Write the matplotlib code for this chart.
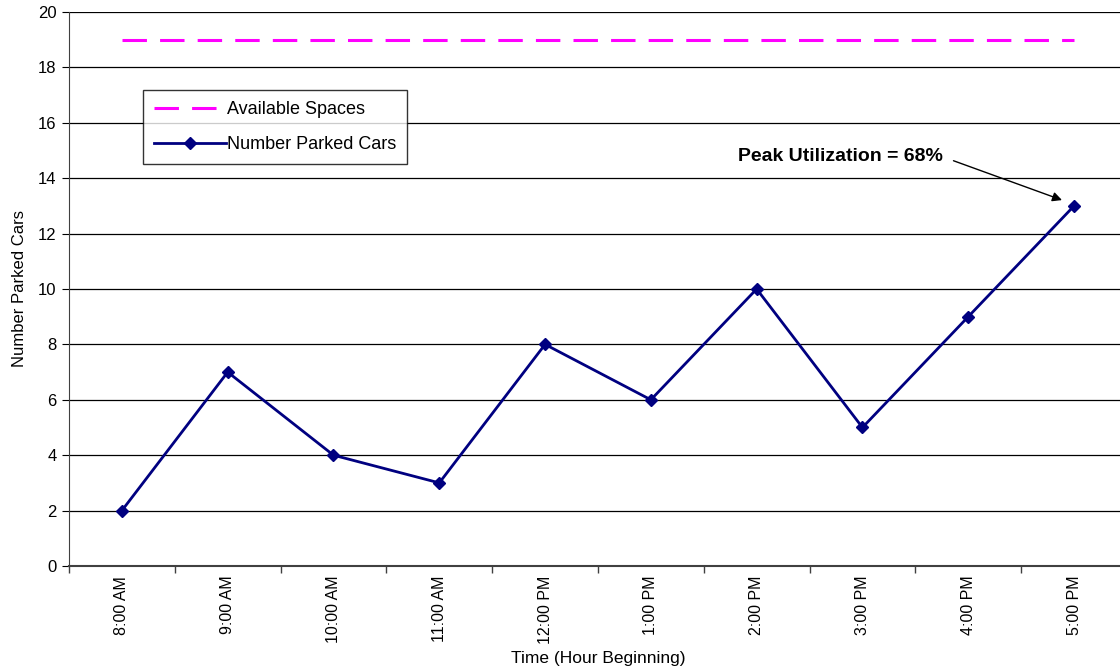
import numpy as np
import matplotlib.pyplot as plt

plt.rcParams['font.family'] = ['Liberation Sans', 'DejaVu Sans']

# Datos
hours = ['8:00 AM', '9:00 AM', '10:00 AM', '11:00 AM', '12:00 PM',
         '1:00 PM', '2:00 PM', '3:00 PM', '4:00 PM', '5:00 PM']
parked = [2, 7, 4, 3, 8, 6, 10, 5, 9, 13]
available = [19] * len(hours)
peak_label = 'Peak Utilization = 68%'

x = np.arange(len(hours))

fig = plt.figure(figsize=(11.2, 6.71), dpi=100)
ax = fig.add_axes([0.0616, 0.1565, 0.9446, 0.8256])

ax.plot(x, available, color='#FF00FF', lw=2.2, dashes=(8, 4.3),
        label='Available Spaces')
ax.plot(x, parked, color='#000080', lw=2, marker='D', ms=6.5,
        label='Number Parked Cars')

ax.set_xlim(-0.5, len(hours) - 0.5)
ax.set_ylim(0, 20)
ax.set_yticks(np.arange(0, 21, 2))
ax.yaxis.grid(True, color='black', lw=0.9)
ax.set_axisbelow(True)

# ticks entre categorias
ax.set_xticks(np.arange(-0.5, len(hours), 1.0))
ax.set_xticklabels([])
ax.set_xticks(x, minor=True)
ax.set_xticklabels(hours, minor=True, rotation=90, fontsize=11.5)
ax.tick_params(axis='x', which='minor', length=0, pad=7)
ax.tick_params(axis='x', which='major', length=5, width=1, color='#404040')
ax.tick_params(axis='y', length=5, labelsize=12, pad=4)

for s in ['top', 'right']:
    ax.spines[s].set_visible(False)
ax.spines['left'].set_color('#404040')
ax.spines['bottom'].set_color('#404040')
ax.spines['bottom'].set_linewidth(1.5)

ax.set_xlabel('Time (Hour Beginning)', fontsize=12.5, labelpad=5)
ax.set_ylabel('Number Parked Cars', fontsize=12, labelpad=8)

leg = ax.legend(loc='upper left', bbox_to_anchor=(0.07, 0.859), fontsize=13,
                frameon=True, fancybox=False, edgecolor='black',
                borderaxespad=0, handlelength=4.0, borderpad=0.6,
                labelspacing=1.0, handletextpad=0.05)
leg.get_frame().set_linewidth(1)

ax.annotate(peak_label, xy=(8.886, 13.21), xytext=(7.76, 14.77),
            fontsize=14, fontweight='bold', ha='right', va='center',
            arrowprops=dict(arrowstyle='-|>', color='black', lw=1,
                            relpos=(1.0, 0.5), shrinkA=6, shrinkB=0,
                            mutation_scale=14))

plt.savefig('out.png', dpi=100)
